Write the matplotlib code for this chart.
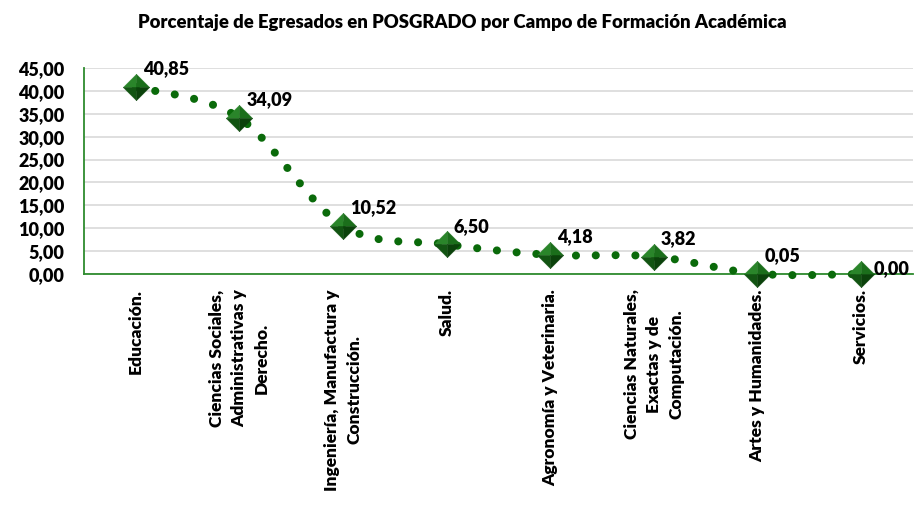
import matplotlib
matplotlib.use("Agg")
import matplotlib.pyplot as plt
import numpy as np

# Porcentaje de egresados en posgrado por campo de formación
categorias = [
    "Educación.",
    "Ciencias Sociales,\nAdministrativas y\nDerecho.",
    "Ingeniería, Manufactura y\nConstrucción.",
    "Salud.",
    "Agronomía y Veterinaria.",
    "Ciencias Naturales,\nExactas y de\nComputación.",
    "Artes y Humanidades.",
    "Servicios.",
]
porcentajes = [40.85, 34.09, 10.52, 6.50, 4.18, 3.82, 0.05, 0.00]
y_ticks = [0, 5, 10, 15, 20, 25, 30, 35, 40, 45]

plt.rcParams['font.family'] = ['Lato', 'DejaVu Sans']
W = 'heavy'


def fmt(v):
    return f"{v:.2f}".replace(".", ",")


def smooth_curve(x, y, n=40):
    """Catmull-Rom style smoothing like the spreadsheet 'smoothed line'."""
    pts = np.column_stack([x, y]).astype(float)
    ext = np.vstack([pts[0], pts, pts[-1]])
    out = []
    t = np.linspace(0, 1, n)[:, None]
    for i in range(1, len(ext) - 2):
        p0, p1, p2, p3 = ext[i - 1], ext[i], ext[i + 1], ext[i + 2]
        c1 = p1 + (p2 - p0) / 6
        c2 = p2 - (p3 - p1) / 6
        seg = ((1 - t) ** 3) * p1 + 3 * ((1 - t) ** 2) * t * c1 \
            + 3 * (1 - t) * t ** 2 * c2 + t ** 3 * p2
        out.append(seg if i == 1 else seg[1:])
    out = np.vstack(out)
    return out[:, 0], out[:, 1]


fig = plt.figure(figsize=(9.21, 5.05), dpi=100)
ax = fig.add_axes([0.0912, 0.4574, 0.9, 0.4079])

x = np.arange(len(porcentajes))
sx, sy = smooth_curve(x, porcentajes)

# Dotted smoothed line
ax.plot(sx, sy, color='#0a6a0a', lw=5.8, linestyle=(0, (0.01, 2.45)),
        dash_capstyle='round', zorder=3, clip_on=False)

# Diamond markers with four shaded facets (pyramid look)
facets = [
    ([(0, 0), (-1, 0), (0, 1), (0, 0)], '#2a852a'),
    ([(0, 0), (0, 1), (1, 0), (0, 0)], '#1b6e1b'),
    ([(0, 0), (-1, 0), (0, -1), (0, 0)], '#125412'),
    ([(0, 0), (1, 0), (0, -1), (0, 0)], '#0b420b'),
]
for verts, col in facets:
    ax.plot(x, porcentajes, linestyle='none', marker=verts, markersize=19,
            markerfacecolor=col, markeredgecolor=col, markeredgewidth=0.3,
            zorder=4, clip_on=False)

# Data labels
for i, v in enumerate(porcentajes):
    if i == len(porcentajes) - 1:
        ax.annotate(fmt(v), (x[i], v), xytext=(9, 4), textcoords='offset points',
                    ha='left', va='center', fontsize=13, fontweight=W,
                    annotation_clip=False, zorder=5)
    else:
        ax.annotate(fmt(v), (x[i], v), xytext=(5, 13), textcoords='offset points',
                    ha='left', va='center', fontsize=13, fontweight=W,
                    annotation_clip=False, zorder=5)

ax.set_xlim(-0.5, len(porcentajes) - 0.5)
ax.set_ylim(0, 45)
ax.set_yticks(y_ticks)
ax.set_yticklabels([fmt(v) for v in y_ticks], fontsize=13, fontweight=W)
ax.set_xticks(x)
ax.set_xticklabels(categorias, rotation=90, ha='center', va='top',
                   fontsize=12.5, fontweight=W, multialignment='center',
                   linespacing=1.5)
ax.tick_params(axis='both', length=0)
ax.tick_params(axis='x', pad=11)
ax.tick_params(axis='y', pad=14)

ax.grid(axis='y', color='#d9d9d9', lw=1.2)
ax.set_axisbelow(True)
for s in ['top', 'right']:
    ax.spines[s].set_visible(False)
ax.spines['left'].set_color('#2e8b2e')
ax.spines['bottom'].set_color('#2e8b2e')
ax.spines['left'].set_linewidth(1.3)
ax.spines['bottom'].set_linewidth(1.3)

fig.text(0.502, 0.955, "Porcentaje de Egresados en POSGRADO por Campo de Formación Académica",
         ha='center', va='center', fontsize=13.3, fontweight=W)

fig.savefig("out.png", dpi=100)
